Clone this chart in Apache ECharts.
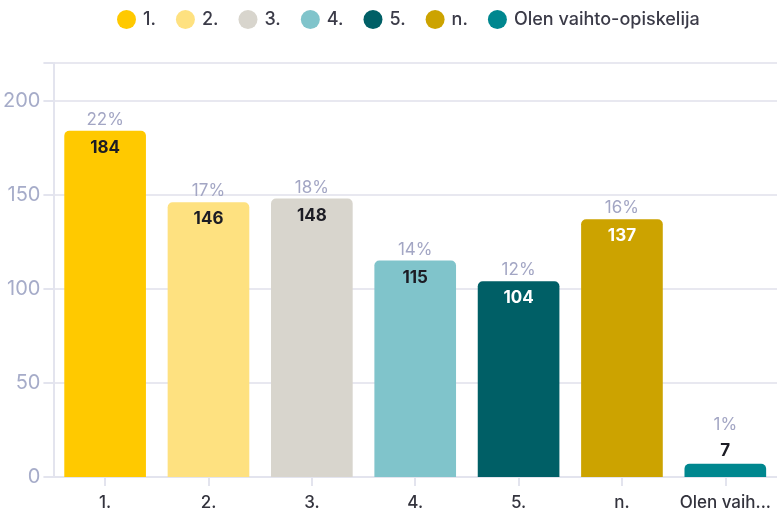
<!DOCTYPE html>
<html>
<head>
<meta charset="utf-8">
<script src="https://cdn.jsdelivr.net/npm/echarts@6/dist/echarts.min.js"></script>
<style>
  html, body { margin: 0; padding: 0; background: #fff; }
  #chart { width: 777px; height: 513px; }
</style>
</head>
<body>
<div id="chart"></div>
<script>
// data
const categories = ['1.', '2.', '3.', '4.', '5.', 'n.', 'Olen vaihto-opiskelija']
const counts = [184, 146, 148, 115, 104, 137, 7]
const percents = ['22%', '17%', '18%', '14%', '12%', '16%', '1%']
const yTicks = [0, 50, 100, 150, 200]

const palette = ['#ffc900', '#fee180', '#d8d5cd', '#80c4cb', '#005f66', '#cca300', '#00878f']
const labelColors = ['#1c1c24', '#1c1c24', '#1c1c24', '#1c1c24', '#ffffff', '#ffffff', '#1c1c24']

const chart = echarts.init(document.getElementById('chart'))

const series = categories.map((name, i) => {
  const data = categories.map((c, j) => (j === i ? counts[j] : null))
  const small = counts[i] < 20
  return {
    name,
    type: 'bar',
    stack: 'total',
    barCategoryGap: '21%',
    itemStyle: { color: palette[i], borderRadius: [5, 5, 0, 0] },
    label: {
      show: true,
      position: small ? 'top' : 'insideTop',
      distance: 0,
      offset: small ? [0, 0] : [0, -24],
      formatter: () => `{p|${percents[i]}}\n{v|${counts[i]}}`,
      rich: {
        p: { color: '#a3a6c4', fontSize: 17, lineHeight: 26, fontFamily: 'Inter' },
        v: {
          color: small ? '#1c1c24' : labelColors[i],
          fontSize: 17,
          fontWeight: 'bold',
          lineHeight: small ? 26 : 30,
          fontFamily: 'Inter'
        }
      }
    },
    data
  }
})

chart.setOption({
  animation: false,
  textStyle: { fontFamily: 'Inter' },
  legend: {
    top: 10,
    left: 117,
    icon: 'circle',
    itemWidth: 19,
    itemHeight: 19,
    itemGap: 20,
    padding: 0,
    textStyle: { color: '#3b3b48', fontSize: 18, fontWeight: 500, fontFamily: 'Inter', padding: [0, 0, 0, 2] },
    data: categories
  },
  grid: {
    left: 50,
    right: 0,
    top: 63,
    bottom: 36,
    containLabel: false
  },
  xAxis: {
    type: 'category',
    data: categories,
    axisLine: { show: true, lineStyle: { color: '#e3e4ee', width: 2 } },
    axisTick: { show: true, alignWithLabel: true, length: 9, lineStyle: { color: '#e3e4ee', width: 2 } },
    axisLabel: {
      interval: 0,
      color: '#33333d',
      fontSize: 17,
      fontWeight: 500,
      margin: 17,
      width: 96,
      overflow: 'truncate',
      ellipsis: '...'
    }
  },
  yAxis: {
    type: 'value',
    min: yTicks[0],
    max: 220,
    interval: yTicks[1] - yTicks[0],
    axisLine: { show: true, lineStyle: { color: '#e3e4ee', width: 2 } },
    axisTick: { show: true, length: 10, lineStyle: { color: '#e3e4ee', width: 2 } },
    axisLabel: {
      color: '#a6acc9',
      fontSize: 20,
      margin: 13,
      formatter: (v) => (yTicks.includes(v) ? String(v) : '')
    },
    splitLine: { show: true, lineStyle: { color: '#e8e8f0', width: 2 } }
  },
  series
})
</script>
</body>
</html>
